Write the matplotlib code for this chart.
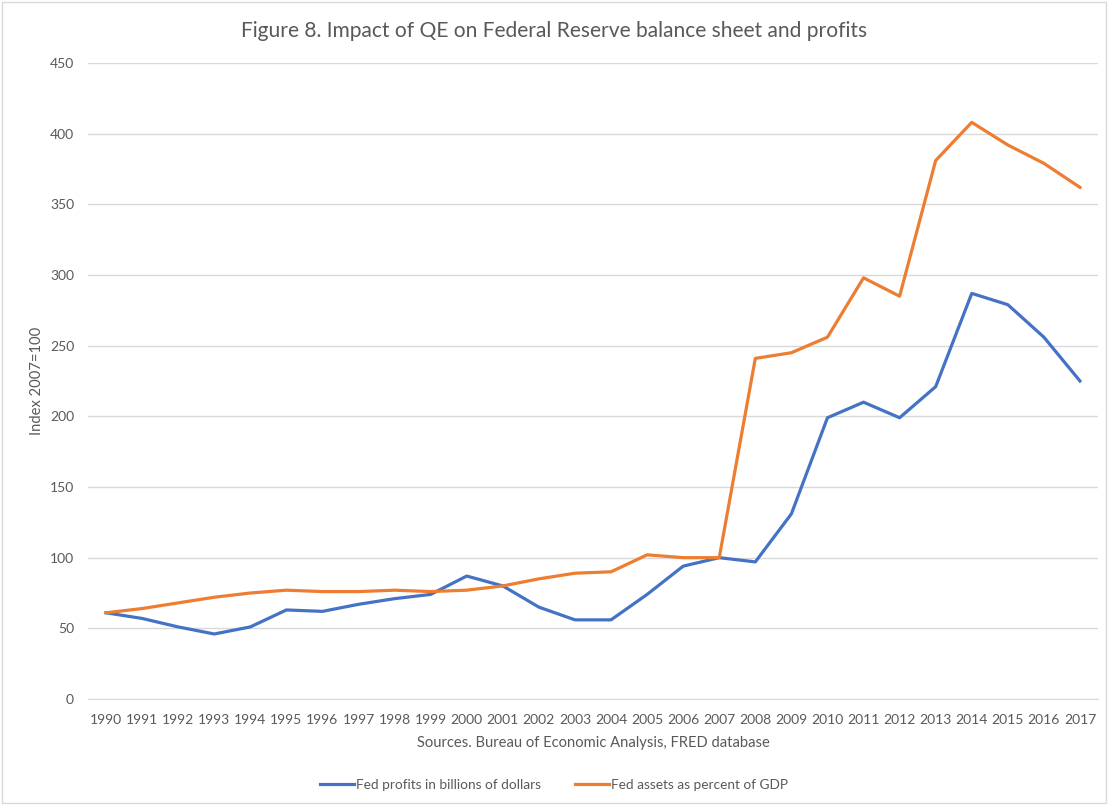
import matplotlib.pyplot as plt
import numpy as np

years = list(range(1990, 2018))
profits = [61, 57, 51, 46, 51, 63, 62, 67, 71, 74, 87, 80, 65, 56, 56, 74, 94, 100,
           97, 131, 199, 210, 199, 221, 287, 279, 256, 225]
assets = [61, 64, 68, 72, 75, 77, 76, 76, 77, 76, 77, 80, 85, 89, 90, 102, 100, 100,
          241, 245, 256, 298, 285, 381, 408, 392, 379, 362]

plt.rcParams['font.family'] = ['Lato', 'DejaVu Sans']
grey = "#595959"

fig = plt.figure(figsize=(11.08, 8.05), dpi=100)
ax = fig.add_axes([88/1108, 1 - 699/805, 1010/1108, 636/805])

x = np.arange(len(years))
ax.plot(x, profits, color="#4472C4", lw=2.3, label="Fed profits in billions of dollars",
        solid_joinstyle="round")
ax.plot(x, assets, color="#ED7D31", lw=2.3, label="Fed assets as percent of GDP",
        solid_joinstyle="round")

ax.set_xlim(-0.5, len(years) - 0.5)
ax.set_ylim(0, 450)
ax.set_yticks(range(0, 451, 50))
ax.set_xticks(x)
ax.set_xticklabels([str(y) for y in years])
ax.grid(axis="y", color="#D9D9D9", lw=1)
ax.set_axisbelow(True)
for s in ["top", "right", "left"]:
    ax.spines[s].set_visible(False)
ax.spines["bottom"].set_color("#D9D9D9")
ax.tick_params(length=0, colors=grey, labelsize=10)
ax.tick_params(axis="y", pad=10)
ax.tick_params(axis="x", pad=11)

ax.set_ylabel("Index 2007=100", color=grey, fontsize=10.6, labelpad=4)
ax.set_xlabel("Sources. Bureau of Economic Analysis, FRED database", color=grey,
              fontsize=10.6, labelpad=7)
fig.text(0.5, 1 - 31/805, "Figure 8. Impact of QE on Federal Reserve balance sheet and profits",
         ha="center", va="center", color=grey, fontsize=15.1)

leg = fig.legend(loc="center", bbox_to_anchor=(0.5, 1 - 785/805), ncol=2, frameon=False,
                 fontsize=9.8, handlelength=2.5, handletextpad=0.15, columnspacing=2.55)
for t in leg.get_texts():
    t.set_color(grey)

fig.patches.append(plt.Rectangle((0.002, 0.002), 0.996, 0.996, transform=fig.transFigure,
                                 fill=False, edgecolor="#D9D9D9", lw=1))

fig.savefig("out.png", dpi=100)
